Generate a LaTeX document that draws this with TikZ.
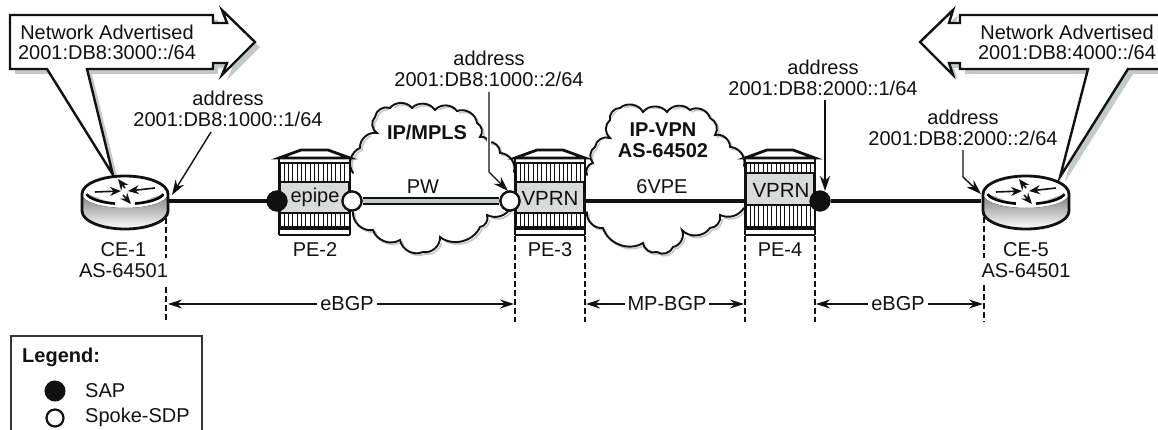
\documentclass[tikz,border=0pt]{standalone}
\usepackage{fontspec}
\setmainfont{Liberation Sans}
\usetikzlibrary{arrows.meta,calc}
\definecolor{ink}{HTML}{111111}
\definecolor{shade}{HTML}{C4CAC9}
\definecolor{boxgray}{HTML}{D9DBDA}
\tikzset{
  lbl/.style={font=\fontsize{20}{20.5}\selectfont,text=ink,inner sep=0pt,align=center},
  blbl/.style={lbl,font=\fontsize{20}{21}\selectfont\bfseries},
  callout/.style={draw=ink,line width=2.4pt,fill=white,line join=miter},
  calloutshadow/.style={fill=shade,draw=none},
  link/.style={draw=ink,line width=3.8pt},
  ptr/.style={draw=ink,line width=1.4pt,-{Stealth[length=15pt,width=10pt]}},
  dimend/.style={draw=ink,line width=1.2pt,-{Stealth[length=14pt,width=9pt]}},
  guide/.style={draw=ink,line width=1.1pt,dash pattern=on 6pt off 3pt},
  cloudline/.style={draw=ink,line width=1.9pt,line cap=round},
  cloudshadow/.style={draw=shade,line width=1.7pt,line cap=round},
  sap/.style={circle,fill=ink,draw=ink,line width=1pt,minimum size=20pt,inner sep=0pt},
  sdp/.style={circle,fill=white,draw=ink,line width=2.2pt,minimum size=19pt,inner sep=0pt},
  halo/.style={draw=white,line width=4pt},
  rarrow/.style={draw=ink,line width=1.6pt,-{Stealth[length=11pt,width=9pt]}},
  sc/.style={bend left=52}
}
% device: #1 left x, #2 right x, #3 gray top, #4 gray bottom, #5 name
\newcommand{\devicebox}[5]{%
  \fill[white] (#1,158) -- (#1+22,150) -- (#2-22,150) -- (#2,158) -- (#2,235) -- (#1,235) -- cycle;
  \foreach \sx in {1,5.3,...,69}{
    \draw[ink,line width=.9pt] (#1+\sx,163) -- (#1+\sx,#3);
    \draw[ink,line width=.9pt] (#1+\sx,#4) -- (#1+\sx,226);
  }
  \draw[ink,line width=1.7pt] (#1,163) -- (#2,163);
  \fill[boxgray,draw=ink,line width=1.3pt] (#1+1,#3) rectangle (#2-1,#4);
  \draw[ink,line width=2.8pt] (#1,158) -- (#1+22,150) -- (#2-22,150) -- (#2,158) -- cycle;
  \draw[ink,line width=2.8pt] (#1,158) -- (#1,235) (#2,158) -- (#2,235);
  \draw[ink,line width=3.8pt] (#1,228) -- (#2,228);
  \draw[ink,line width=2.4pt] (#1,235) -- (#2,235);
  \coordinate (#5) at ({(#1+#2)/2},192);
}
% router: #1 = centre x, #2 = name; the front rim has no black line
\newcommand{\router}[2]{%
  \fill[white] (#1-43,194) arc[start angle=180,end angle=-180,x radius=43pt,y radius=18pt];
  \fill[shade] (#1-43,194) arc[start angle=180,end angle=360,x radius=43pt,y radius=14pt] -- (#1+43,211) arc[start angle=360,end angle=180,x radius=43pt,y radius=18pt] -- cycle;
  \draw[ink,line width=2.8pt] (#1-43,194) arc[start angle=180,end angle=0,x radius=43pt,y radius=18pt] -- (#1+43,211) arc[start angle=360,end angle=180,x radius=43pt,y radius=18pt] -- cycle;
  \draw[shade,line width=2.6pt] ($(#1,192)+(190:39pt and 12pt)$) arc[start angle=190,end angle=255,x radius=39pt,y radius=12pt];
  \draw[shade,line width=2.6pt] ($(#1,192)+(285:39pt and 12pt)$) arc[start angle=285,end angle=350,x radius=39pt,y radius=12pt];
  \draw[rarrow] (#1-30,192) -- (#1-4,191);
  \draw[rarrow] (#1+30,188) -- (#1+3,191);
  \draw[rarrow] (#1,188) -- (#1-7,179);
  \draw[rarrow] (#1-2,195) -- (#1+6,204);
  \coordinate (#2) at (#1,193);
}
\newcommand{\cloudA}{(353,173) to[sc] (360,148) to[sc] (377,133) to[sc] (375,117) to[sc] (390,108) to[sc] (412,108) to[sc] (435,110) to[sc] (457,111) to[sc] (477,123) to[sc] (480,137) to[sc] (488,142) to[sc] (500,153) to[sc] (514,172)}
\newcommand{\cloudAb}{(353,212) to[bend right=52] (373,230) to[bend right=52] (400,240) to[bend right=52] (423,252) to[bend right=52] (440,237) to[bend right=52] (480,227) to[bend right=52] (487,215) to[bend right=40] (510,209)}
\newcommand{\cloudB}{(587,175) to[sc] (593,163) to[sc] (595,147) to[sc] (610,138) to[sc] (610,120) to[sc] (620,108) to[sc] (643,112) to[sc] (667,112) to[sc] (690,110) to[sc] (710,118) to[sc] (715,135) to[sc] (730,147) to[sc] (744,166)}
\newcommand{\cloudBb}{(587,212) to[bend right=52] (603,228) to[bend right=52] (643,243) to[bend right=52] (657,252) to[bend right=52] (673,247) to[bend right=52] (682,230) to[bend right=52] (710,228) to[bend right=52] (720,215) to[bend right=40] (744,208)}
\begin{document}
\begin{tikzpicture}[x=1pt,y=-1pt]
\useasboundingbox (0,0) rectangle (1158,430);
\clip (0,0) rectangle (1158,430);
\fill[white] (0,0) rectangle (1158,430);

% clouds
\begin{scope}[shift={(2,2)}]
\draw[cloudshadow] \cloudA; \draw[cloudshadow] \cloudAb;
\draw[cloudshadow] \cloudB; \draw[cloudshadow] \cloudBb;
\end{scope}
\fill[white] (353,173) -- (377,125) -- (390,108) -- (457,111) -- (514,172) -- (510,209) -- (423,252) -- (353,212) -- cycle;
\fill[white] (587,175) -- (610,120) -- (620,108) -- (690,110) -- (744,166) -- (744,208) -- (657,252) -- (587,212) -- cycle;
\draw[cloudline] \cloudA; \draw[cloudline] \cloudAb;
\draw[cloudline] \cloudB; \draw[cloudline] \cloudBb;

% callouts
\begin{scope}[shift={(5,5)}]
\fill[calloutshadow] (10,15) -- (213,15) -- (213,23) -- (227,23) -- (222,10) -- (255,42) -- (222,75) -- (227,63) -- (213,63) -- (213,69) -- (87,69) -- (113,175) -- (47,69) -- (10,69) -- cycle;
\fill[calloutshadow] (1158,15) -- (960,15) -- (960,23) -- (949,23) -- (953,10) -- (920,42) -- (953,75) -- (949,63) -- (960,63) -- (960,69) -- (1088,69) -- (1060,177) -- (1128,69) -- (1170,69) -- (1170,15) -- cycle;
\end{scope}
\draw[callout] (10,15) -- (213,15) -- (213,23) -- (227,23) -- (222,10) -- (255,42) -- (222,75) -- (227,63) -- (213,63) -- (213,69) -- (87,69) -- (113,175) -- (47,69) -- (10,69) -- cycle;
\draw[callout] (1170,15) -- (960,15) -- (960,23) -- (949,23) -- (953,10) -- (920,42) -- (953,75) -- (949,63) -- (960,63) -- (960,69) -- (1088,69) -- (1060,177) -- (1128,69) -- (1170,69);

\node[lbl] (netL) at (107,42.5) {Network Advertised\\2001:DB8:3000::/64};
\node[lbl] (netR) at (1067,42.5) {Network Advertised\\2001:DB8:4000::/64};

% devices
\router{125}{ce1}
\router{1026}{ce5}
\devicebox{279}{350}{182}{213}{pe2}
\devicebox{515}{585}{182}{213}{pe3}
\devicebox{745}{815}{173}{205}{pe4}

\node[lbl] (epipe) at (315,197) {epipe};
\node[lbl,font=\fontsize{20.5}{21}\selectfont] (vprnA) at (550,198) {VPRN};
\node[lbl,font=\fontsize{20.5}{21}\selectfont] (vprnB) at (781,190) {VPRN};

\coordinate (ce1e) at (167,201);
\coordinate (ce5w) at (981,201);
\coordinate (pe3e) at (585,201);
\coordinate (pe4w) at (745,201);

\node[sap] (sapA) at (277,201) {};
\node[sap] (sapB) at (820,201) {};
\node[sdp] (sdpA) at (352,201) {};
\node[sdp] (sdpB) at (510,201) {};

\draw[link] (ce1e) -- (sapA);
\draw[link] (pe3e) -- (pe4w);
\draw[link] (sapB) -- (ce5w);
\draw[draw=ink,line width=8.4pt] (sdpA) -- (sdpB);
\draw[draw=shade,line width=4.4pt] (sdpA) -- (sdpB);
\node[sdp] at (sdpA) {};
\node[sdp] at (sdpB) {};
\node[sap] at (sapA) {};
\node[sap] at (sapB) {};

% labels
\node[blbl] (mpls) at (427,132) {IP/MPLS};
\node[blbl] (ipvpn) at (663,140) {IP-VPN\\AS-64502};
\node[lbl] (pw) at (423,187) {PW};
\node[lbl] (sixvpe) at (662,187) {6VPE};
\node[lbl] (addrA) at (228,109) {address\\2001:DB8:1000::1/64};
\node[lbl] (addrB) at (489,69) {address\\2001:DB8:1000::2/64};
\node[lbl] (addrC) at (823,78) {address\\2001:DB8:2000::1/64};
\node[lbl] (addrD) at (963,128) {address\\2001:DB8:2000::2/64};
\node[lbl] (ceA) at (123.5,260) {CE-1\\AS-64501};
\node[lbl] (ceB) at (1026,260) {CE-5\\AS-64501};
\node[lbl] (peA) at (315,250) {PE-2};
\node[lbl] (peB) at (550,250) {PE-3};
\node[lbl] (peC) at (780,250) {PE-4};

% pointers
\coordinate (a1s) at (211,132); \coordinate (a1e) at (172,195);
\coordinate (a2s) at (489,92); \coordinate (a2m) at (489,172); \coordinate (a2e) at (508,191);
\coordinate (a3s) at (825,100); \coordinate (a3e) at (825,191);
\coordinate (a4s) at (963,150); \coordinate (a4m) at (963,177); \coordinate (a4e) at (981,194);
\draw[ptr] (a1s) -- (a1e);
\draw[halo] (a2s) -- (a2m);
\draw[ptr] (a2s) -- (a2m) -- (a2e);
\draw[ptr] (a3s) -- (a3e);
\draw[ptr] (a4s) -- (a4m) -- (a4e);

% guides
\coordinate (g1t) at (166,218); \coordinate (g1b) at (166,322);
\coordinate (g1m) at (166,258); \coordinate (g1n) at (166,287);
\coordinate (g2t) at (515,236); \coordinate (g2b) at (515,322);
\coordinate (g3t) at (585,236); \coordinate (g3b) at (585,322);
\coordinate (g4t) at (745,236); \coordinate (g4b) at (745,322);
\coordinate (g5t) at (815,236); \coordinate (g5b) at (815,322);
\coordinate (g6t) at (984,217); \coordinate (g6b) at (984,322);
\coordinate (g6m) at (984,258); \coordinate (g6n) at (984,285);
\draw[guide] (g1t) -- (g1m);
\draw[guide] (g1n) -- (g1b);
\draw[guide] (g2t) -- (g2b);
\draw[guide] (g3t) -- (g3b);
\draw[guide] (g4t) -- (g4b);
\draw[guide] (g5t) -- (g5b);
\draw[guide] (g6t) -- (g6m);
\draw[guide] (g6n) -- (g6b);

% dimension arrows
\node[lbl,fill=white,inner xsep=3pt] (dimA) at (347,304) {eBGP};
\node[lbl,fill=white,inner xsep=2pt] (dimB) at (667,304) {MP-BGP};
\node[lbl,fill=white,inner xsep=3pt] (dimC) at (898,304) {eBGP};
\coordinate (d1) at (168,304); \coordinate (d2) at (514,304);
\coordinate (d3) at (586,304); \coordinate (d4) at (744,304);
\coordinate (d5) at (816,304); \coordinate (d6) at (983,304);
\draw[dimend] (dimA) -- (d1); \draw[dimend] (dimA) -- (d2);
\draw[dimend] (dimB) -- (d3); \draw[dimend] (dimB) -- (d4);
\draw[dimend] (dimC) -- (d5); \draw[dimend] (dimC) -- (d6);
\node[lbl,fill=white,inner xsep=3pt] at (dimA) {eBGP};
\node[lbl,fill=white,inner xsep=2pt] at (dimB) {MP-BGP};
\node[lbl,fill=white,inner xsep=3pt] at (dimC) {eBGP};

% legend
\draw[draw=ink!85,line width=1.3pt] (11,440) -- (11,336) -- (202,336) -- (202,440);
\node[blbl,anchor=west] (lgTitle) at (22,357) {Legend:};
\node[sap] (lgSap) at (55,391) {};
\node[sdp,minimum size=17pt] (lgSdp) at (55,418) {};
\node[lbl,anchor=west] (lgA) at (85,391) {SAP};
\node[lbl,anchor=west] (lgB) at (85,417) {Spoke-SDP};
\end{tikzpicture}
\end{document}
